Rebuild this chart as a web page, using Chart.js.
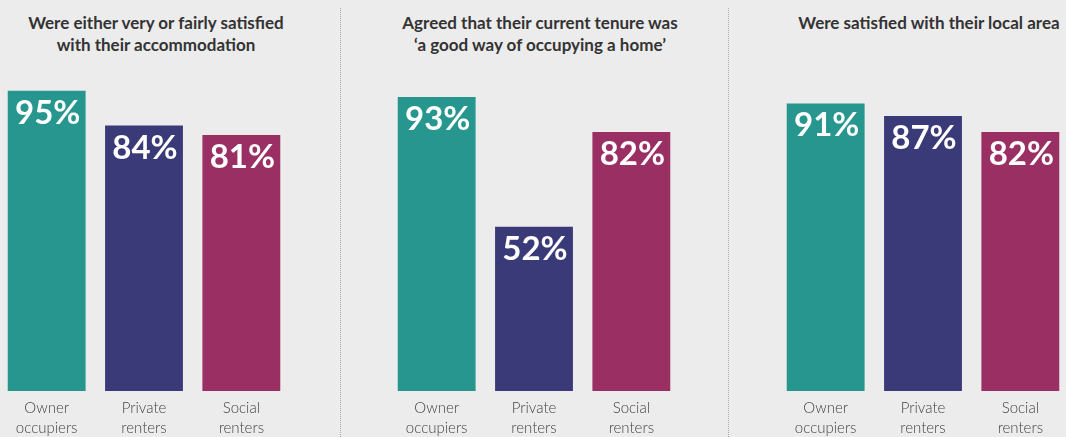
<!DOCTYPE html>
<html>
<head>
<meta charset="utf-8">
<script src="https://cdn.jsdelivr.net/npm/chart.js@4/dist/chart.umd.min.js"></script>
<style>
  html, body { margin: 0; padding: 0; background: #ececec; overflow: hidden; }
  body { width: 1066px; height: 437px; position: relative; font-family: Lato, sans-serif; }
  .title { position: absolute; top: 12px; font-weight: bold; font-size: 17px; line-height: 22px;
           color: #333; text-align: center; white-space: nowrap; }
  .divider { position: absolute; top: 8px; bottom: 0; width: 0; border-left: 1px dotted #aaa; }
  .panel { position: absolute; top: 75px; width: 292px; height: 362px; }
</style>
</head>
<body>
<div class="divider" style="left:340px"></div>
<div class="divider" style="left:728px"></div>

<div class="title" style="left:6px; width:300px">Were either very or fairly satisfied<br>with their accommodation</div>
<div class="title" style="left:390px; width:300px">Agreed that their current tenure was<br>‘a good way of occupying a home’</div>
<div class="title" style="left:779px; width:300px">Were satisfied with their local area</div>

<div class="panel" style="left:-2px"><canvas id="c1"></canvas></div>
<div class="panel" style="left:388px"><canvas id="c2"></canvas></div>
<div class="panel" style="left:777px"><canvas id="c3"></canvas></div>

<script>
const tenures = [['Owner', 'occupiers'], ['Private', 'renters'], ['Social', 'renters']];
const accommodationSatisfied = [95, 84, 81];
const goodWayOfOccupying = [93, 52, 82];
const localAreaSatisfied = [91, 87, 82];
const tenureColors = ['#26968f', '#3b3a78', '#9a2f64'];

// writes the percentage in white near the top of each bar
const valueLabels = {
    id: 'valueLabels',
    afterDatasetsDraw(chart) {
        const ctx = chart.ctx;
        const ds = chart.data.datasets[0];
        ctx.save();
        ctx.fillStyle = '#ffffff';
        ctx.font = 'bold 33px Lato, sans-serif';
        ctx.textAlign = 'center';
        ctx.textBaseline = 'alphabetic';
        chart.getDatasetMeta(0).data.forEach((bar, i) => {
            ctx.fillText(ds.data[i] + '%', bar.x + 1, bar.y + 33);
        });
        ctx.restore();
    }
};

function tenureChart(id, values) {
    return new Chart(document.getElementById(id), {
        type: 'bar',
        data: {
            labels: tenures,
            datasets: [{
                data: values,
                backgroundColor: tenureColors,
                categoryPercentage: 1,
                barPercentage: 0.8
            }]
        },
        options: {
            responsive: true,
            maintainAspectRatio: false,
            animation: false,
            layout: { padding: 0 },
            plugins: {
                legend: { display: false },
                tooltip: { enabled: false }
            },
            scales: {
                y: { display: false, min: 0, max: 100 },
                x: {
                    grid: { display: false, drawTicks: false },
                    border: { display: false },
                    ticks: {
                        padding: 7,
                        color: '#444',
                        font: { family: 'Lato, sans-serif', size: 15, weight: 300, lineHeight: 1.35 }
                    },
                    afterFit(scale) { scale.height = 46; }
                }
            }
        },
        plugins: [valueLabels]
    });
}

tenureChart('c1', accommodationSatisfied);
tenureChart('c2', goodWayOfOccupying);
tenureChart('c3', localAreaSatisfied);
</script>
</body>
</html>
